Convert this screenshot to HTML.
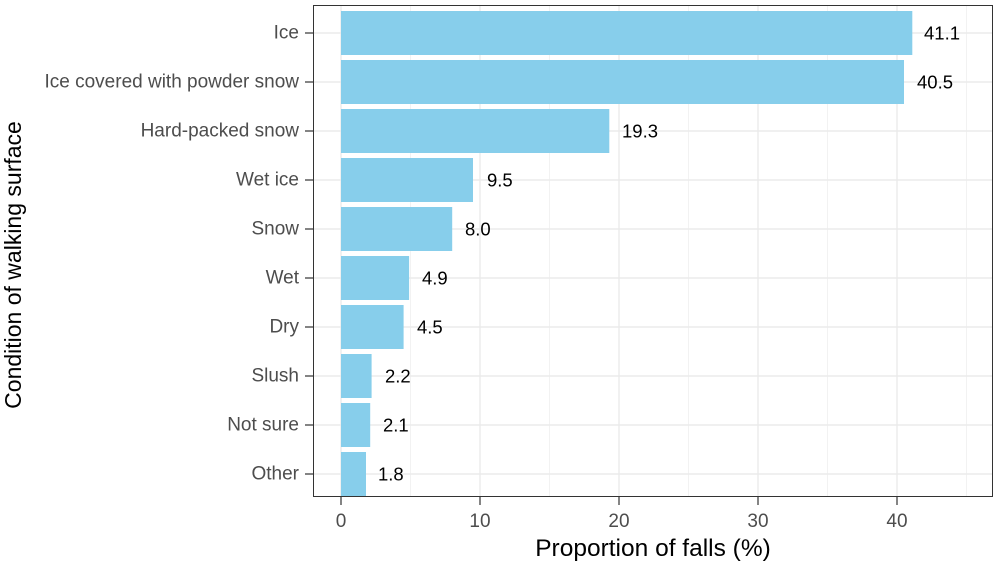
<!DOCTYPE html>
<html><head><meta charset="utf-8"><style>body{margin:0;background:#fff}svg{display:block}text{font-family:"Liberation Sans",Arial,sans-serif}</style></head><body>
<svg width="1000" height="562" viewBox="0 0 1000 562" xmlns="http://www.w3.org/2000/svg">
<rect x="313" y="5" width="680" height="492" fill="#fff"/>
<g stroke="#f2f2f2" stroke-width="1">
<line x1="410.5" y1="5" x2="410.5" y2="497"/><line x1="549.5" y1="5" x2="549.5" y2="497"/><line x1="688.5" y1="5" x2="688.5" y2="497"/><line x1="827.5" y1="5" x2="827.5" y2="497"/><line x1="966.5" y1="5" x2="966.5" y2="497"/>
</g>
<g stroke="#ebebeb" stroke-width="1.4">
<line x1="341" y1="5" x2="341" y2="497"/><line x1="480" y1="5" x2="480" y2="497"/><line x1="619" y1="5" x2="619" y2="497"/><line x1="758" y1="5" x2="758" y2="497"/><line x1="897" y1="5" x2="897" y2="497"/>
<line x1="313" y1="33" x2="993" y2="33"/><line x1="313" y1="82" x2="993" y2="82"/><line x1="313" y1="131" x2="993" y2="131"/><line x1="313" y1="180" x2="993" y2="180"/><line x1="313" y1="229" x2="993" y2="229"/><line x1="313" y1="278" x2="993" y2="278"/><line x1="313" y1="327" x2="993" y2="327"/><line x1="313" y1="376" x2="993" y2="376"/><line x1="313" y1="425" x2="993" y2="425"/><line x1="313" y1="474" x2="993" y2="474"/>
</g>
<g fill="#87ceeb">
<rect x="341" y="11" width="571.3" height="44"/>
<rect x="341" y="60" width="563" height="44"/>
<rect x="341" y="109" width="268.3" height="44"/>
<rect x="341" y="158" width="132" height="44"/>
<rect x="341" y="207" width="111.2" height="44"/>
<rect x="341" y="256" width="68.1" height="44"/>
<rect x="341" y="305" width="62.6" height="44"/>
<rect x="341" y="354" width="30.6" height="44"/>
<rect x="341" y="403" width="29.2" height="44"/>
<rect x="341" y="452" width="25" height="44"/>
</g>
<g font-size="18.5" fill="#000" dominant-baseline="central">
<text x="924" y="33">41.1</text><text x="917" y="82">40.5</text><text x="622" y="131">19.3</text><text x="487" y="180">9.5</text><text x="465" y="229">8.0</text><text x="422" y="278">4.9</text><text x="417" y="327">4.5</text><text x="385" y="376">2.2</text><text x="383" y="425">2.1</text><text x="378" y="474">1.8</text>
</g>
<rect x="313.5" y="5.5" width="679" height="491" fill="none" stroke="#333" stroke-width="1"/>
<g stroke="#333" stroke-width="1.2">
<line x1="305" y1="33" x2="313" y2="33"/><line x1="305" y1="82" x2="313" y2="82"/><line x1="305" y1="131" x2="313" y2="131"/><line x1="305" y1="180" x2="313" y2="180"/><line x1="305" y1="229" x2="313" y2="229"/><line x1="305" y1="278" x2="313" y2="278"/><line x1="305" y1="327" x2="313" y2="327"/><line x1="305" y1="376" x2="313" y2="376"/><line x1="305" y1="425" x2="313" y2="425"/><line x1="305" y1="474" x2="313" y2="474"/>
<line x1="341" y1="497" x2="341" y2="505"/><line x1="480" y1="497" x2="480" y2="505"/><line x1="619" y1="497" x2="619" y2="505"/><line x1="758" y1="497" x2="758" y2="505"/><line x1="897" y1="497" x2="897" y2="505"/>
</g>
<g font-size="19" fill="#4d4d4d" text-anchor="end" dominant-baseline="central">
<text x="299" y="33">Ice</text><text x="299" y="82">Ice covered with powder snow</text><text x="299" y="131">Hard-packed snow</text><text x="299" y="180">Wet ice</text><text x="299" y="229">Snow</text><text x="299" y="278">Wet</text><text x="299" y="327">Dry</text><text x="299" y="376">Slush</text><text x="299" y="425">Not sure</text><text x="299" y="474">Other</text>
</g>
<g font-size="19" fill="#4d4d4d" text-anchor="middle">
<text x="341" y="527">0</text><text x="480" y="527">10</text><text x="619" y="527">20</text><text x="758" y="527">30</text><text x="897" y="527">40</text>
</g>
<text x="653" y="556" font-size="24.5" text-anchor="middle" fill="#000">Proportion of falls (%)</text>
<text transform="translate(21,265) rotate(-90)" font-size="23" text-anchor="middle" fill="#000">Condition of walking surface</text>
</svg>
</body></html>
